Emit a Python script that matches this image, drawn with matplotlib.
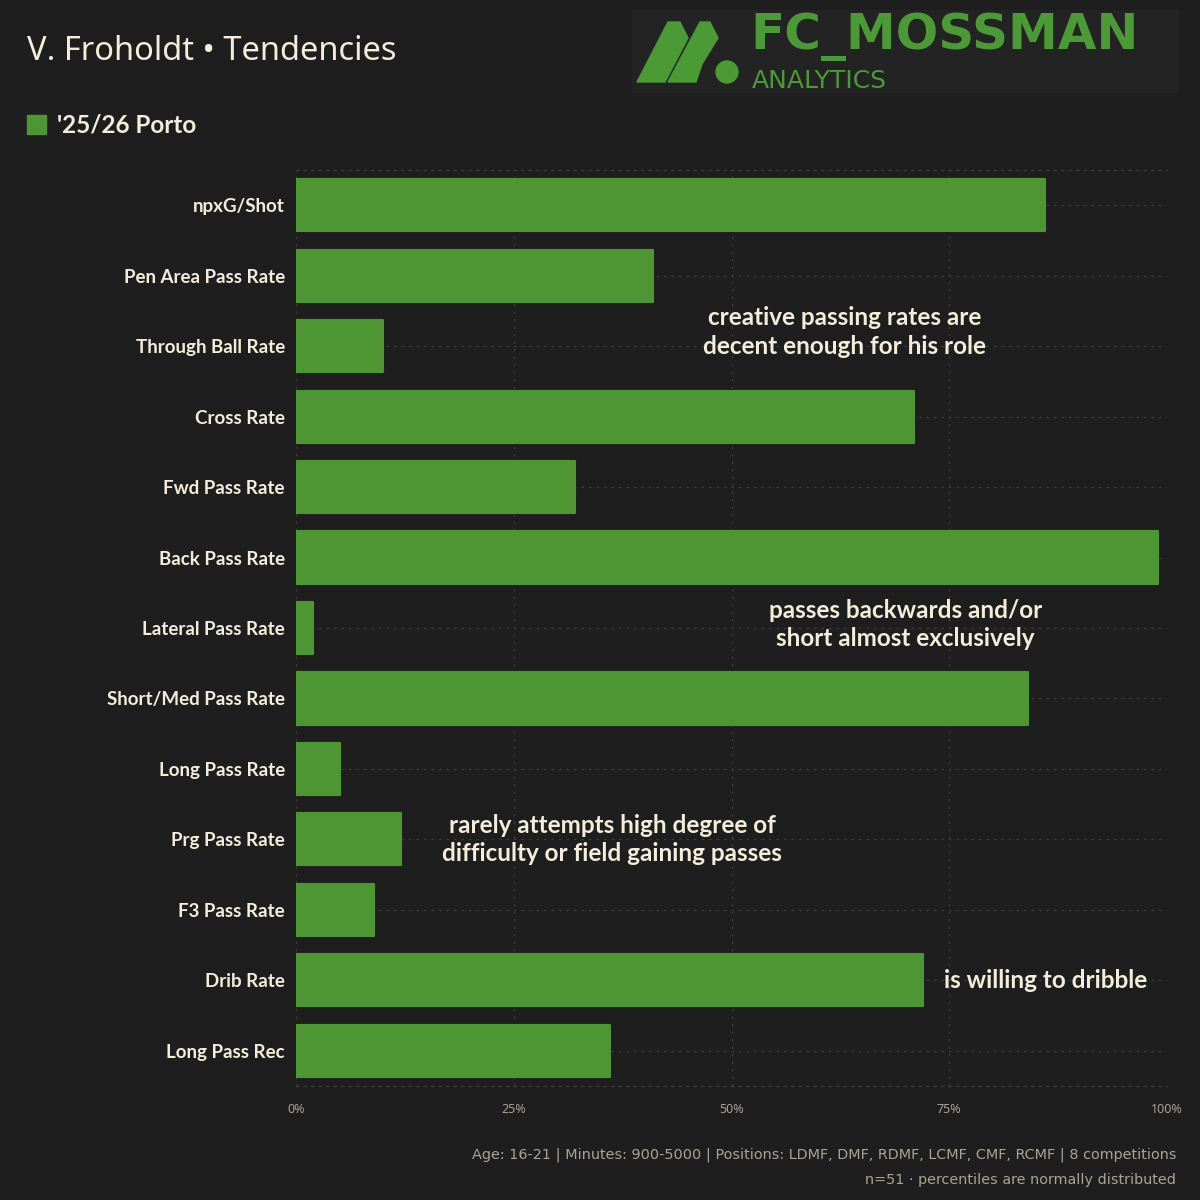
import matplotlib
matplotlib.use("Agg")
import matplotlib.pyplot as plt
from matplotlib.patches import Rectangle, Polygon, Circle

# data
metrics = ["npxG/Shot", "Pen Area Pass Rate", "Through Ball Rate", "Cross Rate",
           "Fwd Pass Rate", "Back Pass Rate", "Lateral Pass Rate", "Short/Med Pass Rate",
           "Long Pass Rate", "Prg Pass Rate", "F3 Pass Rate", "Drib Rate", "Long Pass Rec"]
percentiles = [86, 41, 10, 71, 32, 99, 2, 84, 5, 12, 9, 72, 36]
xticks = [0, 25, 50, 75, 100]
xticklabels = ["0%", "25%", "50%", "75%", "100%"]

notes = ["creative passing rates are\ndecent enough for his role",
         "passes backwards and/or\nshort almost exclusively",
         "rarely attempts high degree of\ndifficulty or field gaining passes",
         "is willing to dribble"]
note_x = [63, 70, 36.3, 86.1]
note_y = [1.8, 5.95, 9.0, 11.0]

bg = "#1e1e1e"
green = "#4e9634"
cream = "#f2eedb"
grey = "#a9a593"
gridc = "#3c3c3c"
bold_font = ['Lato', 'DejaVu Sans']

plt.rcParams['font.family'] = ['Noto Sans', 'DejaVu Sans']

fig = plt.figure(figsize=(12, 12), dpi=100, facecolor=bg)
ax = fig.add_axes([0.2467, 0.095, 0.7258, 0.7633], facecolor=bg)

ypos = list(range(len(metrics)))
ax.barh(ypos, percentiles, height=0.74, color=green, edgecolor=green,
        linewidth=1.5, joinstyle='round', zorder=3)

ax.set_xlim(0, 100)
ax.set_ylim(len(metrics) - 0.5, -0.5)
ax.set_yticks(ypos)
ax.set_yticklabels(metrics, fontsize=13.5, fontweight='bold', color=cream, family=bold_font)
ax.set_xticks(xticks)
ax.set_xticklabels(xticklabels, fontsize=9, color=grey)
ax.tick_params(length=0, pad=8)
ax.tick_params(axis='x', pad=12)
ax.grid(True, color=gridc, linestyle=(0, (2, 4)), linewidth=0.9, zorder=0)
for s in ['top', 'bottom']:
    ax.spines[s].set_color(gridc)
    ax.spines[s].set_linestyle((0, (2, 4)))
    ax.spines[s].set_linewidth(0.9)
for s in ['left', 'right']:
    ax.spines[s].set_visible(False)

for t, x, y in zip(notes, note_x, note_y):
    ax.text(x, y, t, ha='center', va='center', fontsize=17.5, fontweight='bold',
            color=cream, linespacing=1.3, zorder=5, family=bold_font)

# title and legend
fig.text(27/1200, 1 - 52/1200, "V. Froholdt \u2022 Tendencies", fontsize=23.5,
         color=cream, va='center', ha='left')
fig.patches.append(Rectangle((27/1200, 1 - 134/1200), 19/1200, 19/1200,
                             transform=fig.transFigure, color=green))
fig.text(57/1200, 1 - 125/1200, "'25/26 Porto", fontsize=17.5, fontweight='bold',
         color=cream, va='center', ha='left', family=bold_font)

# logo
fig.patches.append(Rectangle((632/1200, 1 - 92/1200), 546/1200, 82/1200,
                             transform=fig.transFigure, color="#232323", zorder=0))
logo_g = "#4b9a36"
def px(x, y):
    return (x/1200, 1 - y/1200)
fig.patches.append(Polygon([px(637, 82), px(668, 22), px(680, 22), px(688, 38), px(665, 82)],
                           transform=fig.transFigure, color=logo_g))
fig.patches.append(Polygon([px(668, 82), px(700, 22), px(710, 22), px(718, 38), px(702, 64), px(696, 82)],
                           transform=fig.transFigure, color=logo_g))
fig.patches.append(Circle(px(727, 72), 11/1200, transform=fig.transFigure, color=logo_g))
fig.text(750/1200, 1 - 49/1200, "FC_MOSSMAN", fontsize=36, fontweight='bold',
         color=logo_g, va='baseline', ha='left', family=['DejaVu Sans'])
fig.text(752/1200, 1 - 88/1200, "ANALYTICS", fontsize=18, fontweight='normal',
         color=logo_g, va='baseline', ha='left', family=['DejaVu Sans'])

# footer
fig.text(1176/1200, 1 - 1155/1200,
         "Age: 16-21 | Minutes: 900-5000 | Positions: LDMF, DMF, RDMF, LCMF, CMF, RCMF | 8 competitions",
         fontsize=10.4, color=grey, ha='right', va='center', family=['DejaVu Sans'])
fig.text(1176/1200, 1 - 1180/1200, "n=51 \u00b7 percentiles are normally distributed",
         fontsize=10.4, color=grey, ha='right', va='center', family=['DejaVu Sans'])

fig.savefig("out.png", dpi=100, facecolor=bg)
